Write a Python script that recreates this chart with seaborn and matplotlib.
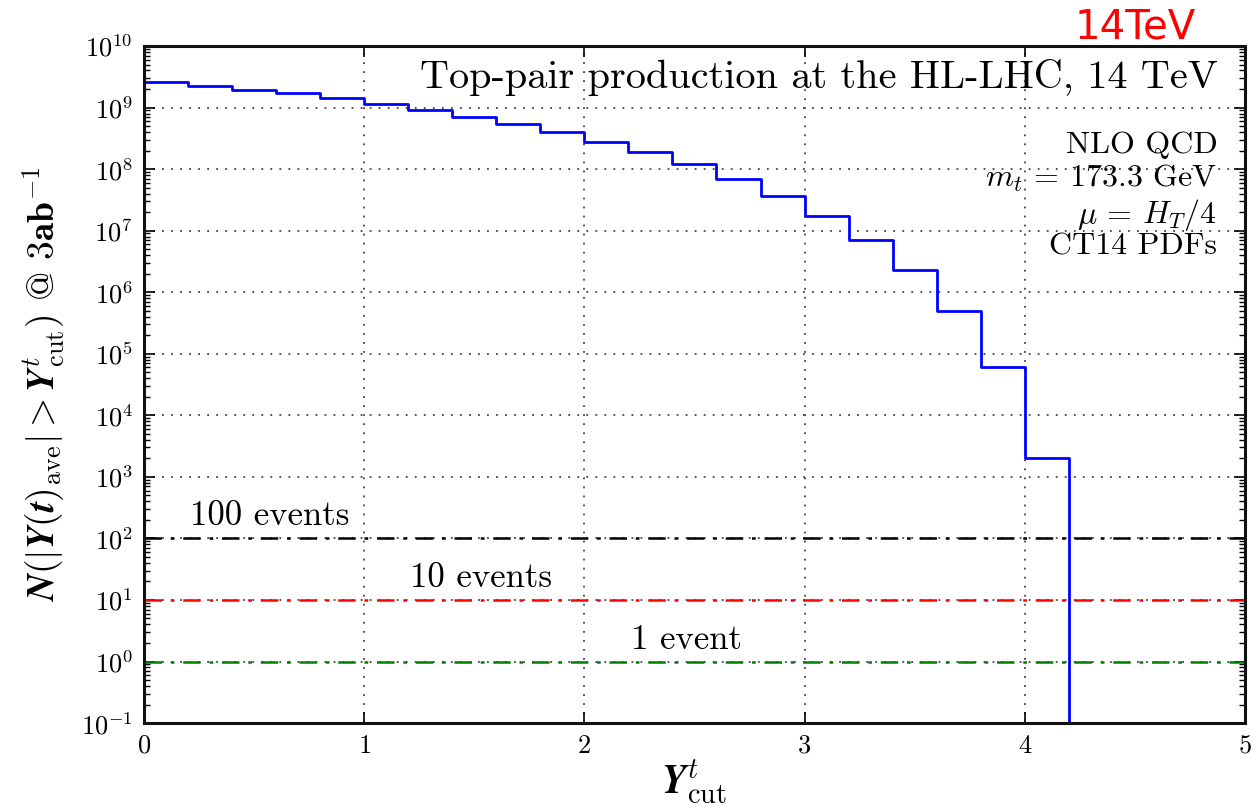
import numpy as np
import pandas as pd
import matplotlib
matplotlib.use("Agg")
import matplotlib.pyplot as plt
from matplotlib.ticker import FuncFormatter, LogLocator, FixedLocator
import seaborn as sns

# ---- data ----
bin_edges = [0.0, 0.2, 0.4, 0.6, 0.8, 1.0, 1.2, 1.4, 1.6, 1.8, 2.0,
             2.2, 2.4, 2.6, 2.8, 3.0, 3.2, 3.4, 3.6, 3.8, 4.0, 4.2]
n_events = [2.57e9, 2.27e9, 1.95e9, 1.70e9, 1.41e9, 1.16e9, 9.1e8, 7.1e8,
            5.5e8, 4.0e8, 2.8e8, 1.93e8, 1.2e8, 6.9e7, 3.7e7, 1.75e7,
            6.97e6, 2.27e6, 4.9e5, 6.1e4, 2.0e3]
below_range = 1e-3  # curve drops to zero after the last bin
ref_levels = [100, 10, 1]
ref_labels = ["100 events", "10 events", "1 event"]
ref_label_x = [0.21, 1.21, 2.21]
ref_colors = ["black", "red", "green"]
x_ticks = [0, 1, 2, 3, 4, 5]
info_lines = ["NLO QCD", r"$m_t$ = 173.3 GeV", r"$\mu$ = $H_T/4$", "CT14 PDFs"]
info_y = [0.853, 0.805, 0.751, 0.703]

sns.set_style("ticks")
plt.rcParams["font.family"] = ["cmr10", "DejaVu Serif"]
plt.rcParams["mathtext.fontset"] = "cm"
plt.rcParams["axes.formatter.use_mathtext"] = True
plt.rcParams["axes.unicode_minus"] = False
plt.rcParams["text.color"] = "black"
plt.rcParams["axes.labelcolor"] = "black"
plt.rcParams["xtick.color"] = "black"
plt.rcParams["ytick.color"] = "black"

df = pd.DataFrame({"x": bin_edges, "y": n_events + [below_range]})

fig = plt.figure(figsize=(12.56, 8.07), dpi=100)
ax = fig.add_axes([0.1146, 0.104, 0.8766, 0.839])

sns.lineplot(data=df, x="x", y="y", ax=ax, color="#0000ff", lw=2,
             drawstyle="steps-post", estimator=None, sort=False)

for lvl, lab, lx, c in zip(ref_levels, ref_labels, ref_label_x, ref_colors):
    ax.axhline(lvl, color=c, lw=1.8, ls="-.", dashes=(7, 3.5, 1.5, 3.5))
    ax.text(lx, lvl * 1.25, lab, fontsize=25, va="bottom", ha="left",
            family=["cmr10"])

ax.set_yscale("log")
ax.set_xlim(0, 5)
ax.set_ylim(1e-1, 1e10)
ax.xaxis.set_major_locator(FixedLocator(x_ticks))
ax.yaxis.set_major_locator(LogLocator(base=10, numticks=20))
ax.yaxis.set_minor_locator(LogLocator(base=10, subs=np.arange(2, 10), numticks=20))
ax.yaxis.set_major_formatter(FuncFormatter(lambda v, p: r"$\mathbf{10^{%d}}$" % round(np.log10(v))))
ax.xaxis.set_major_formatter(FuncFormatter(lambda v, p: r"$\mathbf{%d}$" % v))

ax.grid(True, which="major", color="#444444", ls=(0, (1, 4)), lw=1.3)
ax.tick_params(which="both", direction="in", top=True, right=True)
ax.tick_params(which="major", length=8, width=1.2, labelsize=19, pad=8)
ax.tick_params(which="minor", length=4, width=1)
for s in ax.spines.values():
    s.set_linewidth(2.2)
    s.set_color("#111111")

ax.set_xlabel(r"$\mathbfit{Y}^{t}_{\rm cut}$", fontsize=29, labelpad=0)
ax.set_ylabel(r"$\mathbfit{N}(|\mathbfit{Y}(\mathbfit{t})_{\rm ave}| > \mathbfit{Y}^{t}_{\rm cut})$ @ $\mathbf{3ab^{-1}}$",
              fontsize=27, labelpad=10)

ax.text(0.975, 0.953, "Top-pair production at the HL-LHC, 14 TeV",
        transform=ax.transAxes, ha="right", va="center", fontsize=29)
for line, yy in zip(info_lines, info_y):
    ax.text(0.975, yy, line, transform=ax.transAxes,
            ha="right", va="center", fontsize=23)

fig.text(0.904, 0.966, "14TeV", color="red", fontsize=29,
         family=["DejaVu Sans"], ha="center", va="center")

fig.savefig("out.png", dpi=100)
